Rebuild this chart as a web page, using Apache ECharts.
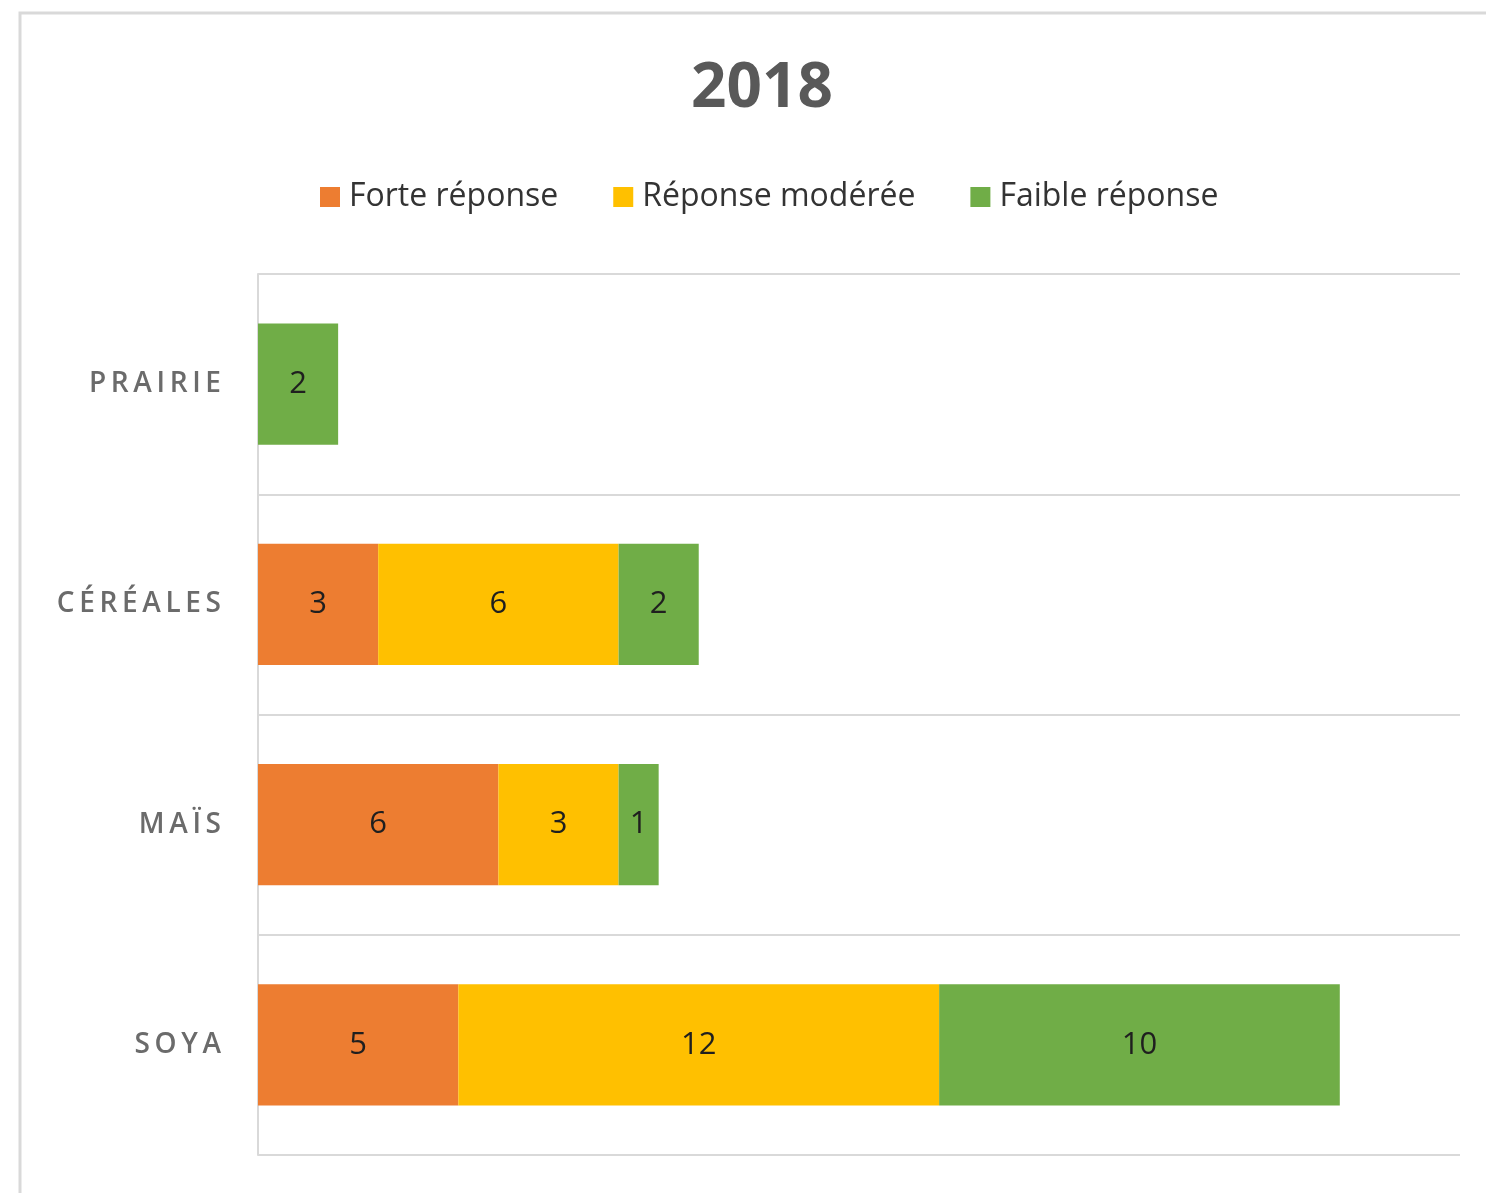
<!DOCTYPE html>
<html>
<head>
<meta charset="utf-8">
<title>2018</title>
<script src="https://cdn.jsdelivr.net/npm/echarts@6/dist/echarts.min.js"></script>
<style>
  html, body { margin: 0; padding: 0; background: #fff; }
  #chart { width: 1486px; height: 1193px; }
</style>
</head>
<body>
<div id="chart"></div>
<script>
// categories, top to bottom
var categories = ['PRAIRIE', 'CÉRÉALES', 'MAÏS', 'SOYA'];
var seriesNames = ['Forte réponse', 'Réponse modérée', 'Faible réponse'];
var forte = [0, 3, 6, 5];
var moderee = [0, 6, 3, 12];
var faible = [2, 2, 1, 10];

var colors = ['#ED7D31', '#FFC000', '#70AD47'];

var myChart = echarts.init(document.getElementById('chart'));

function spaced(s) {
    // lettres espacées comme dans l'original
    return s.split('').join('\u2009');
}

function barSeries(name, data, color) {
    return {
        name: name,
        type: 'bar',
        stack: 'total',
        barWidth: '55%',
        itemStyle: { color: color },
        label: {
            show: true,
            position: 'inside',
            color: '#1f1f1f',
            fontSize: 31,
            fontFamily: 'Open Sans',
            formatter: function (p) { return p.value ? p.value : ''; }
        },
        emphasis: { disabled: true },
        data: data
    };
}

var option = {
    animation: false,
    color: colors,
    title: {
        text: '2018',
        left: 757,
        textAlign: 'center',
        top: 53,
        textStyle: {
            fontSize: 62,
            fontWeight: 'bold',
            color: '#595959',
            fontFamily: 'Open Sans'
        }
    },
    legend: {
        top: 176,
        left: 315,
        itemWidth: 20,
        itemHeight: 20,
        itemGap: 55,
        icon: 'rect',
        data: seriesNames,
        textStyle: {
            fontSize: 32,
            color: '#333333',
            fontFamily: 'Open Sans',
            padding: [0, 0, 0, 4]
        }
    },
    graphic: [{
        type: 'rect',
        shape: { x: 20, y: 13, width: 1500, height: 1220 },
        style: { fill: 'none', stroke: '#d9d9d9', lineWidth: 3 },
        silent: true,
        z: -1
    }],
    grid: {
        left: 258,
        top: 274,
        right: 26,
        bottom: 38,
        containLabel: false
    },
    xAxis: {
        type: 'value',
        min: 0,
        max: 30,
        show: false
    },
    yAxis: {
        type: 'category',
        inverse: true,
        data: categories,
        axisLine: { show: true, lineStyle: { color: '#d9d9d9', width: 2 } },
        axisTick: { show: false },
        splitLine: { show: true, lineStyle: { color: '#d9d9d9', width: 2 } },
        axisLabel: {
            margin: 37,
            fontSize: 28,
            fontWeight: 600,
            color: '#6b6b6b',
            fontFamily: 'Open Sans',
            formatter: function (v) { return spaced(v); }
        }
    },
    series: [
        barSeries(seriesNames[0], forte, colors[0]),
        barSeries(seriesNames[1], moderee, colors[1]),
        barSeries(seriesNames[2], faible, colors[2])
    ]
};

myChart.setOption(option);
</script>
</body>
</html>
